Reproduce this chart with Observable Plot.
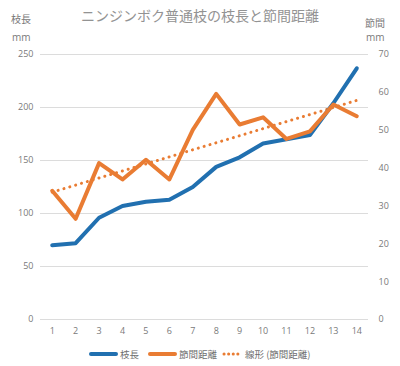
<!DOCTYPE html>
<html><head><meta charset="utf-8">
<script src="https://cdn.jsdelivr.net/npm/d3@7"></script>
<script src="https://cdn.jsdelivr.net/npm/@observablehq/plot@0.6"></script>
<style>
body{margin:0;background:#fff;}
#wrap{position:relative;width:400px;height:366px;font-family:"Noto Sans CJK JP","Open Sans",sans-serif;color:#7a7a7a;overflow:hidden;}
.t{position:absolute;white-space:nowrap;line-height:1;}
#chart{position:absolute;left:0;top:0;}
.leg{position:absolute;top:347px;font-size:9.5px;display:flex;align-items:center;white-space:nowrap;color:#6f6f6f;}
</style></head><body>
<div id="wrap">
<div id="chart"></div>
<div class="t" style="left:0;width:400px;text-align:center;top:8px;font-size:14px;color:#939393;">ニンジンボク普通枝の枝長と節間距離</div>
<div class="t" style="left:11px;top:14px;font-size:10px;">枝長</div>
<div class="t" style="left:12px;top:32px;font-size:10px;font-family:'Open Sans',sans-serif;">mm</div>
<div class="t" style="left:365px;top:18px;font-size:10px;">節間</div>
<div class="t" style="left:366px;top:32px;font-size:10px;font-family:'Open Sans',sans-serif;">mm</div>
<div id="legend"></div>
</div>
<script>
const nodes = [1,2,3,4,5,6,7,8,9,10,11,12,13,14];
const branchLength = [70,72,96,107,111,113,125,144,153,166,170,174,204,237];
const internode = [34,26.6,41.3,37,42.2,37,50.1,59.6,51.5,53.4,47.7,49.7,56.8,53.7];
const leftTicks = [0,50,100,150,200,250];
const rightTicks = [0,10,20,30,40,50,60,70];
const seriesNames = ["枝長","節間距離","線形 (節間距離)"];
const colors = {blue:"#2170b0", orange:"#e97c33"};

const k = 250/70; // right axis -> left scale
const blue = nodes.map((n,i)=>({x:n,y:branchLength[i]}));
const orange = nodes.map((n,i)=>({x:n,y:internode[i]*k}));

const chart = Plot.plot({
  width:400, height:366,
  marginTop:54, marginBottom:47, marginLeft:40, marginRight:32,
  style:{fontFamily:"'Open Sans',sans-serif", fontSize:"9px", color:"#7a7a7a", background:"transparent"},
  x:{type:"linear", domain:[0.5,14.5]},
  y:{domain:[0,250]},
  marks:[
    Plot.ruleY(leftTicks,{stroke:"#dcdcdc", strokeWidth:1}),
    Plot.axisY({ticks:leftTicks, tickSize:0, tickPadding:7, label:null, fill:"#7a7a7a"}),
    Plot.axisY({anchor:"right", ticks:rightTicks.map(v=>v*k), tickFormat:d=>Math.round(d/k), tickSize:0, tickPadding:10, textAnchor:"start", label:null, fill:"#7a7a7a"}),
    Plot.axisX({ticks:nodes, tickSize:0, tickPadding:8, label:null, fill:"#7a7a7a"}),
    Plot.linearRegressionY(orange,{x:"x", y:"y", ci:0, stroke:colors.orange, strokeWidth:3, strokeDasharray:"0.1 6", strokeLinecap:"round"}),
    Plot.line(blue,{x:"x", y:"y", stroke:colors.blue, strokeWidth:4, strokeLinejoin:"round", strokeLinecap:"round"}),
    Plot.line(orange,{x:"x", y:"y", stroke:colors.orange, strokeWidth:4, strokeLinejoin:"round", strokeLinecap:"round"})
  ]
});
document.getElementById("chart").append(chart);

const leg = document.getElementById("legend");
const items = [
  {left:89, name:seriesNames[0], color:colors.blue, dash:null, w:26},
  {left:148, name:seriesNames[1], color:colors.orange, dash:null, w:26},
  {left:222, name:seriesNames[2], color:colors.orange, dash:"0.1 4.5", w:18}
];
for (const it of items) {
  const d = document.createElement("div");
  d.className = "leg";
  d.style.left = it.left + "px";
  d.innerHTML = `<svg width="${it.w+4}" height="8"><line x1="2" x2="${it.w+1}" y1="4" y2="4" stroke="${it.color}" stroke-width="${it.dash?3:4}" stroke-linecap="round" ${it.dash?`stroke-dasharray="${it.dash}"`:""}/></svg><span style="margin-left:1px">${it.name}</span>`;
  leg.append(d);
}
</script>
</body></html>
